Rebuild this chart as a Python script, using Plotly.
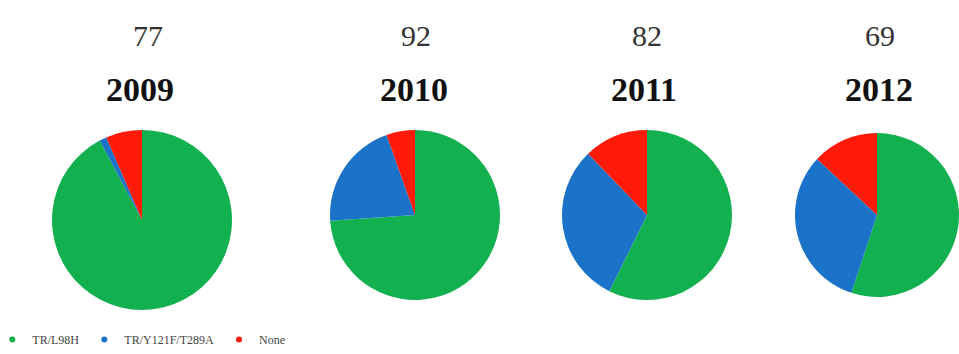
import plotly.graph_objects as go

years = ["2009", "2010", "2011", "2012"]
totals = [77, 92, 82, 69]
labels = ["TR/L98H", "TR/Y121F/T289A", "None"]
green_vals = [71, 68, 47, 38]
blue_vals = [1, 19, 25, 22]
red_vals = [5, 5, 10, 9]
colors = ["#12B04E", "#1A72C9", "#FF1A0A"]

W, H = 959, 354
# pie domains in pixels (x0, x1, ytop, ybottom)
doms = [(52, 232, 130, 310), (330, 500, 130, 300), (562, 732, 130, 300), (795, 959, 130, 300)]
num_x = [148, 416, 647, 880]
year_x = [140, 414, 644, 879]

fig = go.Figure()
for i, y in enumerate(years):
    x0, x1, yt, yb = doms[i]
    fig.add_trace(go.Pie(
        labels=labels,
        values=[green_vals[i], blue_vals[i], red_vals[i]],
        marker=dict(colors=colors, line=dict(width=0)),
        sort=False, direction="clockwise", rotation=0,
        textinfo="none", hoverinfo="label+value+percent",
        domain=dict(x=[x0 / W, x1 / W], y=[1 - yb / H, 1 - yt / H]),
        showlegend=False, name=y,
    ))
    fig.add_annotation(x=num_x[i] / W, y=1 - 36 / H, xref="paper", yref="paper",
                       xanchor="center", yanchor="middle", text=str(totals[i]),
                       showarrow=False, font=dict(family="Liberation Serif", size=30, color="#333"))
    fig.add_annotation(x=year_x[i] / W, y=1 - 89 / H, xref="paper", yref="paper",
                       xanchor="center", yanchor="middle", text="<b>" + y + "</b>",
                       showarrow=False, font=dict(family="Liberation Serif", size=34, color="#111"))

# legend entries
for lab, col in zip(labels, colors):
    fig.add_trace(go.Scatter(x=[None], y=[None], mode="markers", name=lab,
                             marker=dict(symbol="circle", size=6, color=col)))

fig.update_layout(
    width=W, height=H,
    margin=dict(l=0, r=0, t=0, b=0, autoexpand=False),
    paper_bgcolor="white", plot_bgcolor="white",
    xaxis=dict(visible=False), yaxis=dict(visible=False),
    legend=dict(orientation="h", x=-0.008, y=0.0, xanchor="left", yanchor="bottom",
                font=dict(family="Liberation Serif", size=12, color="#444"),
                itemwidth=30, tracegroupgap=0, bgcolor="rgba(0,0,0,0)"),
)
fig.write_html("out.html", config={"displayModeBar": False, "responsive": False},
               post_script="document.body.style.margin='0';")
